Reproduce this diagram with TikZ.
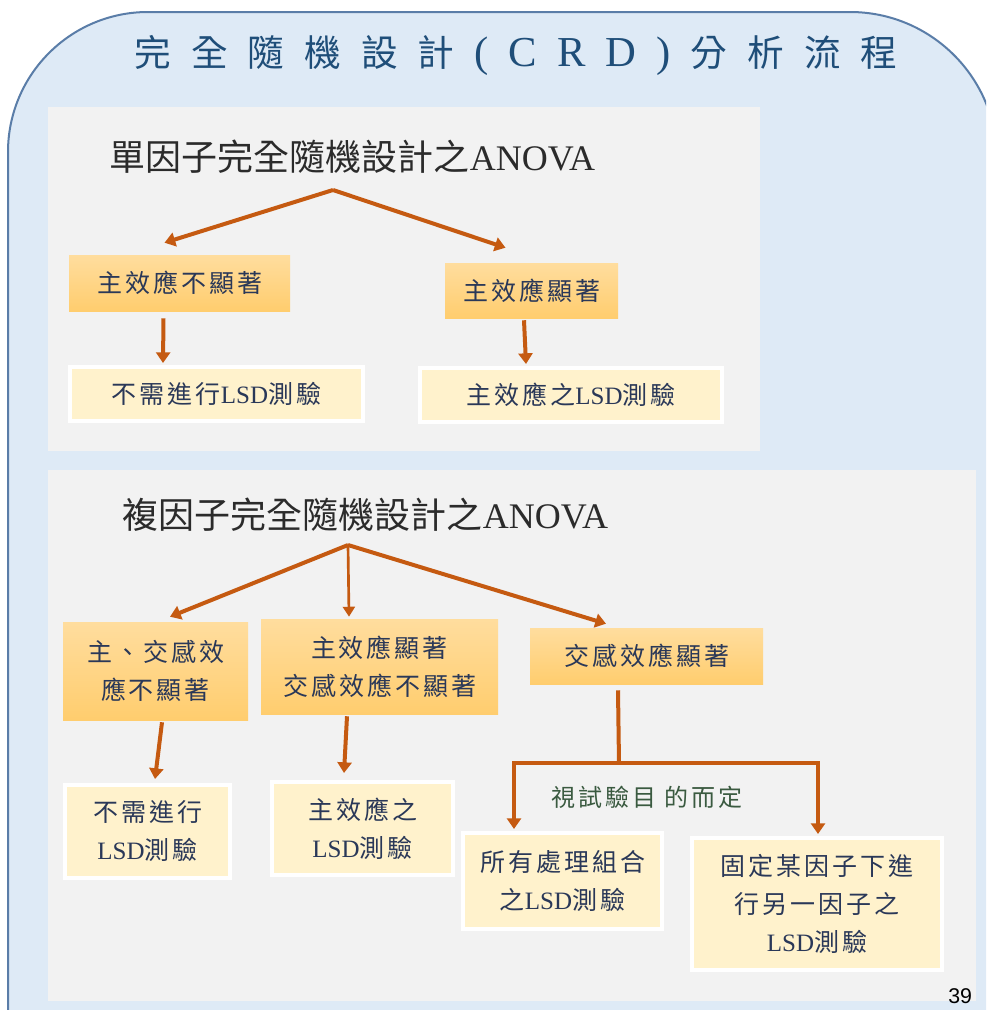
\documentclass[tikz,border=0pt]{standalone}
\usepackage{fontspec}
\setmainfont{Liberation Serif}
\setsansfont{Liberation Sans}
\newfontfamily\cjk{Noto Sans CJK TC}
\newfontfamily\cjkb[LetterSpace=12]{Noto Sans CJK TC}
\usetikzlibrary{arrows.meta,calc}
\newcommand\zh[1]{{\cjkb #1}}
\newcommand\zhh[1]{{\cjk #1}}
\newcommand\lat[1]{{\rmfamily\fontsize{32}{32}\selectfont #1}}
\newcommand\tg{\hspace{15pt}}
\definecolor{bluefill}{HTML}{DEEAF6}
\definecolor{blueline}{HTML}{5A7DA8}
\definecolor{panelc}{HTML}{F2F2F2}
\definecolor{arrowc}{HTML}{C55A11}
\definecolor{otop}{HTML}{FFDD9E}
\definecolor{obot}{HTML}{FFCD6E}
\definecolor{cream}{HTML}{FFF2CC}
\definecolor{navy}{HTML}{2A3858}
\definecolor{titlec}{HTML}{1F4E79}
\definecolor{greent}{HTML}{3A5A40}
\definecolor{headc}{HTML}{2B2B2B}
\begin{document}
\begin{tikzpicture}[x=0.75pt,y=-0.75pt,
  obox/.style={rectangle, top color=otop, bottom color=obot, draw=none, inner sep=0pt,
    text=navy, align=center, font=\fontsize{18.75}{28.5}\selectfont},
  cbox/.style={rectangle, fill=cream, draw=white, line width=3pt, inner sep=0pt,
    text=navy, align=center, font=\fontsize{18.75}{28.5}\selectfont},
  header/.style={text=headc, inner sep=0pt, font=\fontsize{27}{30}\selectfont},
  arr/.style={draw=arrowc, line width=3pt, -{Triangle[length=8pt,width=10.5pt]}},
  arrthin/.style={draw=arrowc, line width=2pt, -{Triangle[length=7.5pt,width=9pt]}},
  conn/.style={draw=arrowc, line width=3pt}
]
\useasboundingbox (0,0) rectangle (986,1010);
\clip (0,0) rectangle (986,1010);
\fill[white] (0,0) rectangle (986,1010);
% outer rounded frame
\draw[draw=blueline, line width=1.5pt, fill=bluefill]
  (8,1030) -- (8,152) arc[start angle=180, end angle=270, radius=140]
  -- (850,12) arc[start angle=270, end angle=360, radius=147] -- (997,1030);
% title
\node[text=titlec, inner sep=0pt, font=\fontsize{27.5}{30}\selectfont] (title) at (516,55)
  {\cjk 完\tg 全\tg 隨\tg 機\tg 設\tg 計\tg\lat{(}\tg\lat{C}\tg\lat{R}\tg\lat{D}\tg\lat{)}\tg 分\tg 析\tg 流\tg 程};
% panels
\fill[panelc] (48,107) rectangle (760,451);
\fill[panelc] (48,470) rectangle (976,1001);

% ---------- panel 1 ----------
\node[header] (h1) at (352.5,157) {\zhh{單因子完全隨機設計之}ANOVA};
\coordinate (r1) at (333,190);
\node[obox, minimum width=165.75pt, minimum height=42pt] (B1) at (179.5,283) {\zh{主效應不顯著}};
\node[obox, minimum width=129.75pt, minimum height=41.25pt] (B2) at (531.5,290.5) {\zh{主效應顯著}};
\node[cbox, minimum width=219.75pt, minimum height=40.5pt] (C1) at (216.5,394) {\zh{不需進行}LSD\zh{測驗}};
\node[cbox, minimum width=226.5pt, minimum height=40.5pt] (C2) at (571,395) {\zh{主效應之}LSD\zh{測驗}};
\draw[arr] (r1) -- ($(B1.north)+(-15,-12)$);
\draw[arr] (r1) -- ($(B2.north)+(-26,-15)$);
\draw[arr] ($(B1.south)+(-16,7)$) -- ($(C1.north)+(-53.5,-2)$);
\draw[arr] ($(B2.south)+(-7.5,2)$) -- ($(C2.north)+(-45,-2)$);

% ---------- panel 2 ----------
\node[header] (h2) at (365.5,515) {\zhh{複因子完全隨機設計之}ANOVA};
\coordinate (r2) at (348,545);
\node[obox, minimum width=138.75pt, minimum height=73.5pt] (D1) at (155.5,671) {\zh{主、交感效}\\\zh{應不顯著}};
\node[obox, minimum width=177.75pt, minimum height=71.25pt] (D2) at (379.5,666.5) {\zh{主效應顯著}\\\zh{交感效應不顯著}};
\node[obox, minimum width=174.75pt, minimum height=42pt] (D3) at (646.5,656) {\zh{交感效應顯著}};
\node[cbox, minimum width=123.75pt, minimum height=69.75pt] (E1) at (147.5,831.5) {\zh{不需進行}\\LSD\zh{測驗}};
\node[cbox, minimum width=135.75pt, minimum height=69.75pt] (E2) at (362.5,828.5) {\zh{主效應之}\\LSD\zh{測驗}};
\node[cbox, minimum width=149.25pt, minimum height=72pt] (E3) at (562.5,881) {\zh{所有處理組合}\\\zh{之}LSD\zh{測驗}};
\node[cbox, minimum width=187.5pt, minimum height=99pt] (E4) at (817,904) {\zh{固定某因子下進}\\\zh{行另一因子之}\\LSD\zh{測驗}};
\draw[arr] (r2) -- ($(D1.north)+(14.5,-5)$);
\draw[arrthin] (r2) -- ($(D2.north)+(-30.5,-2)$);
\draw[arr] (r2) -- ($(D3.north)+(-40.5,-4)$);
\draw[arr] ($(D1.south)+(6.5,2)$) -- ($(E1.north)+(7.5,-4)$);
\draw[arr] ($(D2.south)+(-32.5,2)$) -- ($(E2.north)+(-18.5,-7)$);
\coordinate (j) at (619,763);
\draw[conn] ($(D3.south)+(-28.5,6)$) -- (j);
\draw[arr] ([xshift=1.1pt]j) -| ($(E3.north)+(-48.5,-2)$);
\draw[arr] ([xshift=-1.1pt]j) -| ($(E4.north)+(1,-2)$);
\node[text=greent, inner sep=0pt, font=\fontsize{18}{20}\selectfont] (lbl) at (647,797) {\zh{視試驗目 的而定}};

% page number
\node[anchor=base west, inner sep=0pt, font=\sffamily\fontsize{16}{17}\selectfont] (pg) at (948,1003) {39};
\end{tikzpicture}
\end{document}
